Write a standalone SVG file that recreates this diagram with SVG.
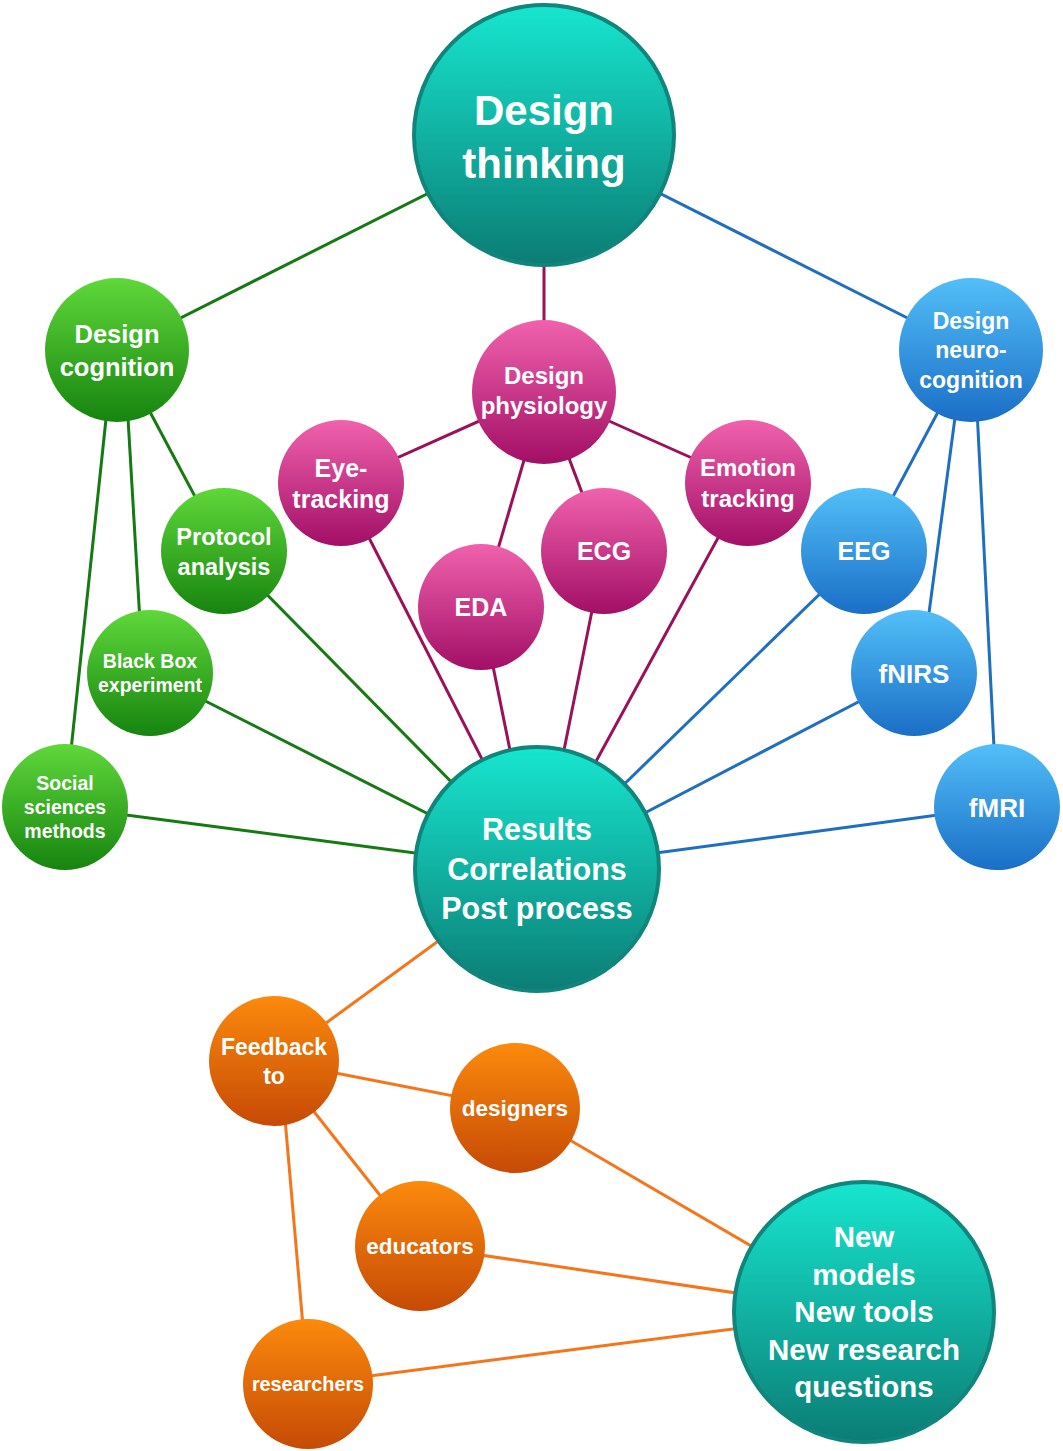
<svg xmlns="http://www.w3.org/2000/svg" width="1063" height="1451" viewBox="0 0 1063 1451">
<defs>
<linearGradient id="gTeal" x1="0" y1="0" x2="0" y2="1"><stop offset="0" stop-color="#17e6cf"/><stop offset="1" stop-color="#0b7d75"/></linearGradient>
<linearGradient id="gGreen" x1="0" y1="0" x2="0" y2="1"><stop offset="0" stop-color="#5fd83a"/><stop offset="1" stop-color="#16840f"/></linearGradient>
<linearGradient id="gMag" x1="0" y1="0" x2="0" y2="1"><stop offset="0" stop-color="#f062ad"/><stop offset="1" stop-color="#a20f66"/></linearGradient>
<linearGradient id="gBlue" x1="0" y1="0" x2="0" y2="1"><stop offset="0" stop-color="#52bff8"/><stop offset="1" stop-color="#1a6ec6"/></linearGradient>
<linearGradient id="gOr" x1="0" y1="0" x2="0" y2="1"><stop offset="0" stop-color="#fb8a0c"/><stop offset="1" stop-color="#c64a06"/></linearGradient>
</defs>
<style>
.teal{fill:url(#gTeal);stroke:#10857b;stroke-width:4}
.green{fill:url(#gGreen)}
.mag{fill:url(#gMag)}
.blue{fill:url(#gBlue)}
.or{fill:url(#gOr)}
text{font-family:"Liberation Sans",Arial,Helvetica,sans-serif;font-weight:bold;fill:#fff;text-anchor:middle}
.eg line{stroke-width:3;fill:none}
.eg .g{stroke:#157a12}
.eg .m{stroke:#9a1159}
.eg .b{stroke:#1f6fc1}
.eg .o{stroke:#f5761a}
</style>
<g id="connectors" class="eg">
<line class="g" x1="544" y1="135" x2="117" y2="350"/>
<line class="g" x1="117" y1="350" x2="224" y2="551"/>
<line class="g" x1="124" y1="350" x2="143" y2="673"/>
<line class="g" x1="108" y1="400" x2="65" y2="807"/>
<line class="g" x1="224" y1="551" x2="537" y2="869"/>
<line class="g" x1="150" y1="673" x2="537" y2="869"/>
<line class="g" x1="65" y1="807" x2="537" y2="869"/>
<line class="m" x1="544" y1="135" x2="544" y2="392"/>
<line class="m" x1="544" y1="392" x2="341" y2="483"/>
<line class="m" x1="544" y1="392" x2="481" y2="607"/>
<line class="m" x1="544" y1="392" x2="604" y2="551"/>
<line class="m" x1="544" y1="392" x2="748" y2="483"/>
<line class="m" x1="341" y1="483" x2="485" y2="765"/>
<line class="m" x1="481" y1="607" x2="512" y2="760"/>
<line class="m" x1="604" y1="551" x2="562" y2="760"/>
<line class="m" x1="748" y1="483" x2="594" y2="765"/>
<line class="b" x1="544" y1="135" x2="971" y2="350"/>
<line class="b" x1="971" y1="350" x2="864" y2="551"/>
<line class="b" x1="964" y1="350" x2="921" y2="673"/>
<line class="b" x1="974" y1="350" x2="997" y2="807"/>
<line class="b" x1="864" y1="551" x2="537" y2="869"/>
<line class="b" x1="914" y1="673" x2="537" y2="869"/>
<line class="b" x1="997" y1="807" x2="537" y2="869"/>
<line class="o" x1="537" y1="869" x2="274" y2="1061"/>
<line class="o" x1="274" y1="1061" x2="515" y2="1108"/>
<line class="o" x1="274" y1="1061" x2="420" y2="1246"/>
<line class="o" x1="280" y1="1061" x2="308" y2="1384"/>
<line class="o" x1="515" y1="1108" x2="864" y2="1312"/>
<line class="o" x1="420" y1="1246" x2="864" y2="1312"/>
<line class="o" x1="308" y1="1384" x2="864" y2="1312"/>
</g>
<g id="design-thinking"><circle class="teal" cx="544" cy="135" r="130"/><text font-size="42" x="544" y="125">Design</text><text font-size="42" x="544" y="178">thinking</text></g>
<g id="design-cognition"><circle class="green" cx="117" cy="350" r="72"/><text font-size="25.5" x="117" y="343">Design</text><text font-size="25.5" x="117" y="376">cognition</text></g>
<g id="design-physiology"><circle class="mag" cx="544" cy="392" r="72"/><text font-size="24" x="544" y="384">Design</text><text font-size="24" x="544" y="414">physiology</text></g>
<g id="design-neurocognition"><circle class="blue" cx="971" cy="350" r="72"/><text font-size="23" x="971" y="329">Design</text><text font-size="23" x="971" y="358">neuro-</text><text font-size="23" x="971" y="388">cognition</text></g>
<g id="eye-tracking"><circle class="mag" cx="341" cy="483" r="63"/><text font-size="25" x="341" y="477">Eye-</text><text font-size="25" x="341" y="508">tracking</text></g>
<g id="emotion-tracking"><circle class="mag" cx="748" cy="483" r="63"/><text font-size="24" x="748" y="476">Emotion</text><text font-size="24" x="748" y="507">tracking</text></g>
<g id="protocol-analysis"><circle class="green" cx="224" cy="551" r="63"/><text font-size="23.5" x="224" y="545">Protocol</text><text font-size="23.5" x="224" y="575">analysis</text></g>
<g id="ecg"><circle class="mag" cx="604" cy="551" r="63"/><text font-size="25" x="604" y="560">ECG</text></g>
<g id="eeg"><circle class="blue" cx="864" cy="551" r="63"/><text font-size="25" x="864" y="560">EEG</text></g>
<g id="eda"><circle class="mag" cx="481" cy="607" r="63"/><text font-size="25" x="481" y="616">EDA</text></g>
<g id="black-box"><circle class="green" cx="150" cy="673" r="63"/><text font-size="19.5" x="150" y="668">Black Box</text><text font-size="19.5" x="150" y="692">experiment</text></g>
<g id="fnirs"><circle class="blue" cx="914" cy="673" r="63"/><text font-size="26" x="914" y="683">fNIRS</text></g>
<g id="social-sciences"><circle class="green" cx="65" cy="807" r="63"/><text font-size="19.5" x="65" y="790">Social</text><text font-size="19.5" x="65" y="814">sciences</text><text font-size="19.5" x="65" y="838">methods</text></g>
<g id="fmri"><circle class="blue" cx="997" cy="807" r="63"/><text font-size="26" x="997" y="817">fMRI</text></g>
<g id="results"><circle class="teal" cx="537" cy="869" r="122"/><text font-size="30.5" x="537" y="840">Results</text><text font-size="30.5" x="537" y="880">Correlations</text><text font-size="30.5" x="537" y="919">Post process</text></g>
<g id="feedback"><circle class="or" cx="274" cy="1061" r="65"/><text font-size="23" x="274" y="1055">Feedback</text><text font-size="23" x="274" y="1084">to</text></g>
<g id="designers"><circle class="or" cx="515" cy="1108" r="65"/><text font-size="22.5" x="515" y="1116">designers</text></g>
<g id="educators"><circle class="or" cx="420" cy="1246" r="65"/><text font-size="22.5" x="420" y="1254">educators</text></g>
<g id="researchers"><circle class="or" cx="308" cy="1384" r="65"/><text font-size="19.8" x="308" y="1391">researchers</text></g>
<g id="new-models"><circle class="teal" cx="864" cy="1312" r="130"/><text font-size="29.5" x="864" y="1247">New</text><text font-size="29.5" x="864" y="1285">models</text><text font-size="29.5" x="864" y="1322">New tools</text><text font-size="29.5" x="864" y="1360">New research</text><text font-size="29.5" x="864" y="1397">questions</text></g>
</svg>
